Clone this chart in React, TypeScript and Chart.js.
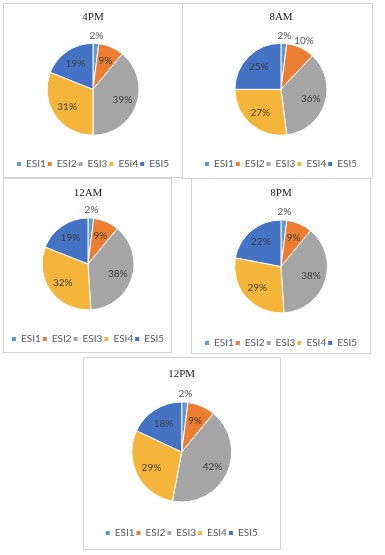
import React, { useEffect, useRef } from "react";
import { Chart, registerables } from "chart.js";

Chart.register(...registerables);

// ---- data ----
const categories = ["ESI1", "ESI2", "ESI3", "ESI4", "ESI5"];
const values4PM = [2, 9, 39, 31, 19];
const values8AM = [2, 10, 36, 27, 25];
const values12AM = [2, 9, 38, 32, 19];
const values8PM = [2, 9, 38, 29, 22];
const values12PM = [2, 9, 42, 29, 18];
const colors = ["#5B9BD5", "#ED7D31", "#A5A5A5", "#F5B53A", "#4472C4"];

type Panel = {
  title: string;
  values: number[];
  box: { x: number; y: number; w: number; h: number };
  t: { titleY: number; cx: number; cy: number; r: number; legendY: number };
  outside: number[];
};

const panels: Panel[] = [
  { title: "4PM", values: values4PM, box: { x: 3, y: 3, w: 180, h: 175 }, t: { titleY: 16.7, cx: 93, cy: 89.3, r: 46, legendY: 164.3 }, outside: [0] },
  { title: "8AM", values: values8AM, box: { x: 182, y: 3, w: 191, h: 176 }, t: { titleY: 17, cx: 281, cy: 89.3, r: 46, legendY: 163.7 }, outside: [0, 1] },
  { title: "12AM", values: values12AM, box: { x: 3, y: 178, w: 169, h: 175 }, t: { titleY: 193, cx: 88, cy: 264, r: 46, legendY: 339 }, outside: [0] },
  { title: "8PM", values: values8PM, box: { x: 191, y: 178, w: 180, h: 176 }, t: { titleY: 192.7, cx: 281, cy: 266.5, r: 46.5, legendY: 343 }, outside: [0] },
  { title: "12PM", values: values12PM, box: { x: 83, y: 357, w: 198, h: 193 }, t: { titleY: 373.7, cx: 181.7, cy: 452, r: 50, legendY: 533.3 }, outside: [0] },
];

const LABEL_FONT = "Lato";
const LEG_PAD = 2;
const TITLE_SIZE = 11;

const sliceLabels = {
  id: "sliceLabels",
  afterDatasetsDraw(chart: any, _args: any, opts: any) {
    const ctx = chart.ctx;
    const meta = chart.getDatasetMeta(0);
    const data = chart.data.datasets[0].data;
    ctx.save();
    ctx.font = `10px ${LABEL_FONT}`;
    ctx.textAlign = "center";
    ctx.textBaseline = "middle";
    meta.data.forEach((arc: any, i: number) => {
      const p = arc.getProps(["x", "y", "startAngle", "endAngle", "outerRadius"], true);
      const mid = (p.startAngle + p.endAngle) / 2;
      const out = (opts.outside || []).includes(i);
      const d = out ? p.outerRadius + 8 : p.outerRadius * 0.68;
      ctx.fillStyle = out ? "#595959" : "#404040";
      ctx.fillText(data[i] + "%", p.x + Math.cos(mid) * d, p.y + Math.sin(mid) * d);
    });
    ctx.restore();
  },
};

function PieCard({ panel }: { panel: Panel }) {
  const ref = useRef<HTMLCanvasElement | null>(null);
  const { box, t } = panel;
  const L = box.x + 1;
  const W = box.w - 2;
  const T = box.y + 1;
  const pb = 2;
  const H = Math.round(t.legendY + 15 - T + pb);

  useEffect(() => {
    if (!ref.current) return;
    const pt = t.titleY - T - (TITLE_SIZE * 1.2) / 2;
    const legendTop = T + H - pb - 20 - LEG_PAD;
    const titleEdge = T + pt + TITLE_SIZE * 1.2;
    const tb = 2 * t.cy - legendTop - titleEdge;
    const off = 2 * (t.cx - L) - W;
    const padLeft = off > 0 ? off : 0;
    const padRight = off < 0 ? -off : 0;

    const chart = new Chart(ref.current, {
      type: "pie",
      data: {
        labels: categories,
        datasets: [
          {
            data: panel.values,
            backgroundColor: colors,
            borderColor: "#ffffff",
            borderWidth: 1,
            radius: t.r,
          } as any,
        ],
      },
      options: {
        responsive: false,
        animation: false,
        devicePixelRatio: 1,
        layout: { padding: { top: 0, bottom: pb, left: padLeft, right: padRight } },
        plugins: {
          tooltip: { enabled: false },
          title: {
            display: true,
            text: panel.title,
            color: "#1a1a1a",
            font: { family: "'Liberation Serif', serif", size: TITLE_SIZE, weight: "normal", lineHeight: 1.2 },
            padding: { top: pt, bottom: tb },
          },
          legend: {
            display: true,
            position: "bottom",
            labels: {
              boxWidth: 4,
              boxHeight: 4,
              padding: LEG_PAD,
              color: "#595959",
              font: { family: LABEL_FONT, size: 10 },
              generateLabels: (c: any) =>
                c.data.labels.map((lab: string, i: number) => ({
                  text: lab,
                  fillStyle: colors[i],
                  strokeStyle: colors[i],
                  lineWidth: 0,
                  fontColor: "#595959",
                  hidden: false,
                  index: i,
                })),
            },
          },
          sliceLabels: { outside: panel.outside },
        } as any,
      },
      plugins: [sliceLabels as any],
    });
    return () => chart.destroy();
  }, []);

  return (
    <>
      <div
        style={{
          position: "absolute",
          left: box.x,
          top: box.y,
          width: box.w,
          height: box.h,
          boxSizing: "border-box",
          border: "1px solid #d4d4d4",
          background: "#fff",
        }}
      />
      <canvas
        ref={ref}
        width={W}
        height={H}
        style={{ position: "absolute", left: L, top: T, width: W, height: H }}
      />
    </>
  );
}

export default function App() {
  return (
    <div
      style={{
        position: "absolute",
        left: 0,
        top: 0,
        width: 385,
        height: 555,
        background: "#fff",
        overflow: "hidden",
      }}
    >
      {panels.map((p) => (
        <PieCard key={p.title} panel={p} />
      ))}
    </div>
  );
}
